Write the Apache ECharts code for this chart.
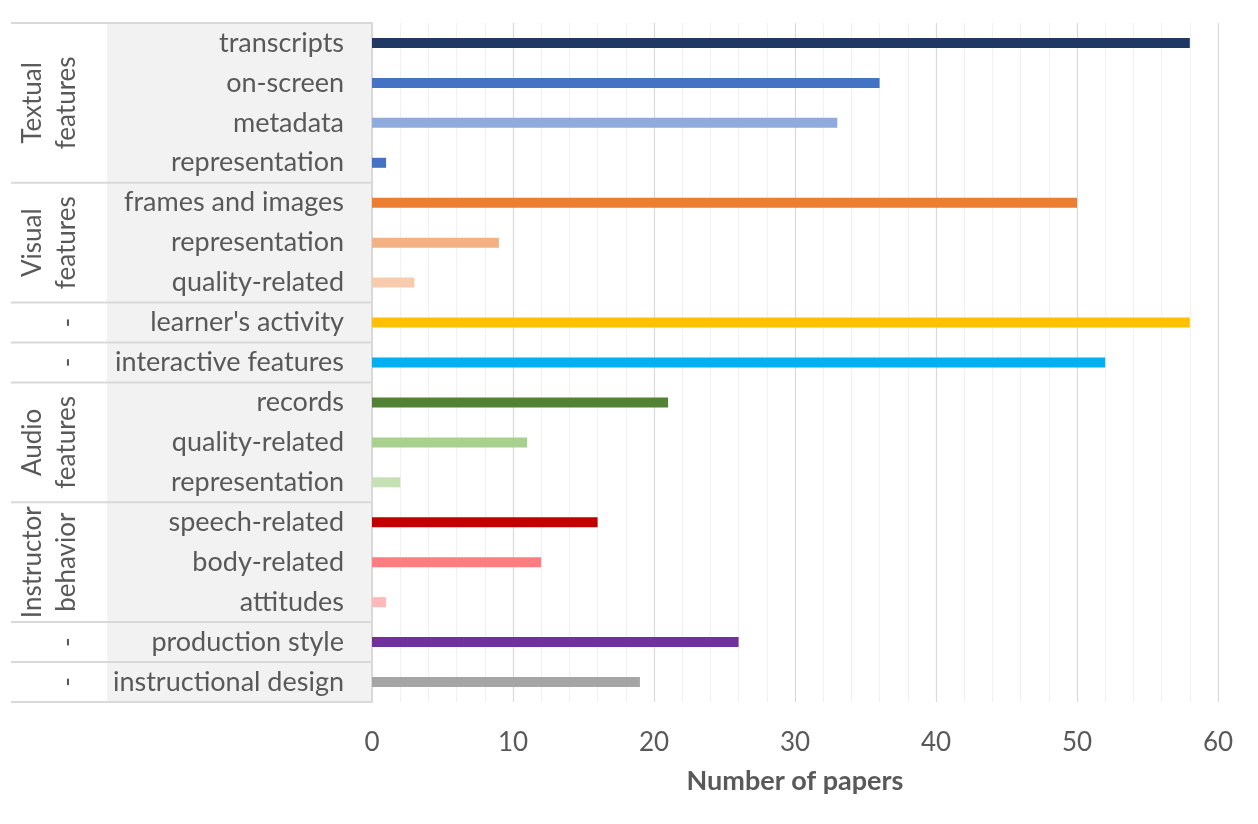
<!DOCTYPE html>
<html>
<head>
<meta charset="utf-8">
<script src="https://cdn.jsdelivr.net/npm/echarts@6/dist/echarts.min.js"></script>
<style>
  html, body { margin: 0; padding: 0; background: #fff; }
  #chartmain { width: 1258px; height: 824px; }
</style>
</head>
<body>
<div id="chartmain"></div>
<script>
var categories = ['transcripts', 'on-screen', 'metadata', 'representation',
    'frames and images', 'representation', 'quality-related',
    "learner's activity", 'interactive features',
    'records', 'quality-related', 'representation',
    'speech-related', 'body-related', 'attitudes',
    'production style', 'instructional design'];
var papers = [58, 36, 33, 1, 50, 9, 3, 58, 52, 21, 11, 2, 16, 12, 1, 26, 19];
var barColors = ['#1F3864', '#4472C4', '#8FAADC', '#4472C4',
    '#ED7D31', '#F4B183', '#F8CBAD',
    '#FFC000', '#00B0F0',
    '#548235', '#A9D18E', '#C5E0B4',
    '#C00000', '#FF7C80', '#FFB9B9',
    '#7030A0', '#A5A5A5'];
// groups: label lines and how many categories each covers
var groupNames = [['Textual', 'features'], ['Visual', 'features'], ['-'], ['-'],
    ['Audio', 'features'], ['Instructor', 'behavior'], ['-'], ['-']];
var groupSizes = [4, 3, 1, 1, 3, 3, 1, 1];
var xTicks = { min: 0, max: 60, interval: 10 };

var font = 'Lato, "Open Sans", sans-serif';
var gridLeft = 372, gridTop = 23, gridRight = 40, gridBottom = 122;

var myChart = echarts.init(document.getElementById('chartmain'));

var option = {
    animation: false,
    grid: { left: gridLeft, top: gridTop, right: gridRight, bottom: gridBottom },
    xAxis: {
        type: 'value',
        min: xTicks.min,
        max: xTicks.max,
        interval: xTicks.interval,
        name: 'Number of papers',
        nameLocation: 'middle',
        nameGap: 66,
        nameTextStyle: { fontFamily: font, fontSize: 27, fontWeight: 'bold', color: '#595959' },
        axisLine: { show: false },
        axisTick: { show: false },
        axisLabel: { fontFamily: font, fontSize: 26, color: '#595959', margin: 28 },
        splitLine: { lineStyle: { color: '#D9D9D9', width: 1.2 } },
        minorTick: { show: false, splitNumber: 5 },
        minorSplitLine: { show: true, lineStyle: { color: '#F0F0F0', width: 1.2 } }
    },
    yAxis: {
        type: 'category',
        inverse: true,
        data: categories,
        axisLine: { show: true, lineStyle: { color: '#D9D9D9', width: 2 } },
        axisTick: { show: false },
        axisLabel: { fontFamily: font, fontSize: 27, color: '#595959', margin: 28 },
        splitLine: { show: false }
    },
    series: [{
        type: 'bar',
        barWidth: 10,
        data: papers.map(function (v, i) {
            return { value: v, itemStyle: { color: barColors[i] } };
        })
    }]
};
myChart.setOption(option);

// left-hand table: grey label column, group separators and rotated group names
function yAt(idx) {
    // boundary between categories idx-1 and idx
    var a = myChart.convertToPixel({ yAxisIndex: 0 }, 0);
    var b = myChart.convertToPixel({ yAxisIndex: 0 }, 1);
    return a - (b - a) / 2 + idx * (b - a);
}
var left = 11, colSplit = 107;
var graphics = [{
    type: 'rect', z: -10,
    shape: { x: colSplit, y: yAt(0), width: gridLeft - colSplit, height: yAt(categories.length) - yAt(0) },
    style: { fill: '#F2F2F2' }
}];
var start = 0;
graphics.push({
    type: 'line', shape: { x1: left, y1: yAt(0), x2: gridLeft, y2: yAt(0) },
    style: { stroke: '#D9D9D9', lineWidth: 2 }
});
groupSizes.forEach(function (n, g) {
    var y0 = yAt(start), y1 = yAt(start + n);
    graphics.push({
        type: 'line', shape: { x1: left, y1: y1, x2: gridLeft, y2: y1 },
        style: { stroke: '#D9D9D9', lineWidth: 2 }
    });
    var lines = groupNames[g];
    lines.forEach(function (t, k) {
        var cx = lines.length === 1 ? 68 : 33 + k * 34;
        graphics.push({
            type: 'text', x: cx, y: (y0 + y1) / 2, rotation: Math.PI / 2,
            style: {
                text: t, fontFamily: font, fontSize: 26, fill: '#595959',
                align: 'center', verticalAlign: 'middle'
            }
        });
    });
    start += n;
});
myChart.setOption({ graphic: graphics });
</script>
</body>
</html>
